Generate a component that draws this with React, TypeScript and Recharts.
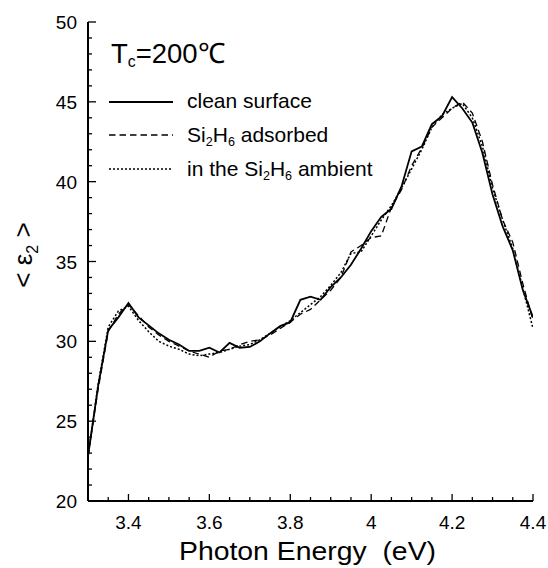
import { Legend, Line, LineChart, XAxis, YAxis } from "recharts";

const energy = [
  3.3, 3.325, 3.35, 3.375, 3.4, 3.425, 3.45, 3.475, 3.5, 3.525, 3.55, 3.575, 3.6, 3.625, 3.65,
  3.675, 3.7, 3.725, 3.75, 3.775, 3.8, 3.825, 3.85, 3.875, 3.9, 3.925, 3.95, 3.975, 4.0, 4.025,
  4.05, 4.075, 4.1, 4.125, 4.15, 4.175, 4.2, 4.225, 4.25, 4.275, 4.3, 4.325, 4.35, 4.375, 4.4,
];

const cleanSurface = [
  22.8, 27.2, 30.7, 31.5, 32.4, 31.5, 31.0, 30.5, 30.1, 29.8, 29.4, 29.4, 29.6, 29.3, 29.9,
  29.6, 29.65, 30.0, 30.5, 30.95, 31.2, 32.6, 32.8, 32.6, 33.4, 34.0, 34.8, 35.8, 36.9, 37.8,
  38.3, 39.7, 41.9, 42.2, 43.6, 44.1, 45.3, 44.6, 43.7, 41.8, 39.2, 37.2, 35.7, 33.2, 31.5,
];

const adsorbed = [
  22.8, 27.0, 30.6, 31.7, 32.3, 31.6, 30.9, 30.4, 30.0, 29.7, 29.4, 29.2, 29.0, 29.4, 29.5,
  29.8, 30.0, 30.1, 30.4, 30.8, 31.2, 31.7, 32.0, 32.6, 33.2, 34.0, 35.6, 36.0, 36.5, 36.6,
  38.4, 39.5, 41.0, 42.1, 43.4, 44.0, 44.6, 45.0, 44.3, 42.5, 39.8, 37.6, 36.2, 33.6, 31.3,
];

const ambient = [
  22.8, 27.3, 30.9, 31.9, 32.2, 31.3, 30.6, 30.0, 29.7, 29.5, 29.2, 29.1, 29.2, 29.3, 29.5,
  29.7, 29.8, 30.1, 30.5, 30.9, 31.3, 31.8, 32.3, 32.8, 33.5, 34.3, 35.5, 35.6, 36.6, 37.6,
  38.5, 39.6, 40.8, 42.0, 43.4, 44.2, 44.6, 44.9, 44.0, 42.2, 39.6, 37.6, 35.8, 33.3, 30.8,
];

const xTicks = [
  3.3, 3.35, 3.4, 3.45, 3.5, 3.55, 3.6, 3.65, 3.7, 3.75, 3.8, 3.85, 3.9, 3.95, 4.0, 4.05, 4.1,
  4.15, 4.2, 4.25, 4.3, 4.35, 4.4,
];
const xMajor = [3.4, 3.6, 3.8, 4.0, 4.2, 4.4];
const xMajorLabels = ["3.4", "3.6", "3.8", "4", "4.2", "4.4"];

const yTicks = [
  20, 21, 22, 23, 24, 25, 26, 27, 28, 29, 30, 31, 32, 33, 34, 35, 36, 37, 38, 39, 40, 41, 42, 43,
  44, 45, 46, 47, 48, 49, 50,
];
const yMajor = [20, 25, 30, 35, 40, 45, 50];
const yMajorLabels = ["20", "25", "30", "35", "40", "45", "50"];

const seriesNames = ["clean surface", "Si2H6 adsorbed", "in the Si2H6 ambient"];

const data = energy.map((e, i) => ({
  e,
  clean: cleanSurface[i],
  adsorbed: adsorbed[i],
  ambient: ambient[i],
}));

const FONT = "'Liberation Sans', Arial, Helvetica, sans-serif";

const majorIndex = (list: number[], v: number) => list.findIndex((m) => Math.abs(m - v) < 1e-6);

function XTick(props: any) {
  const { x, y, payload, side } = props;
  const idx = majorIndex(xMajor, payload.value);
  const len = idx >= 0 ? 7 : 4;
  const dir = side === "bottom" ? -1 : 1;
  return (
    <g>
      <line x1={x} y1={y} x2={x} y2={y + dir * len} stroke="#000" strokeWidth={1.3} />
      {side === "bottom" && idx >= 0 && (
        <text x={x} y={y + 28} textAnchor="middle" fontSize={19} fontFamily={FONT} fill="#000">
          {xMajorLabels[idx]}
        </text>
      )}
    </g>
  );
}

function YTick(props: any) {
  const { x, y, payload, side } = props;
  const idx = majorIndex(yMajor, payload.value);
  const len = idx >= 0 ? 8 : 4;
  const dir = side === "left" ? 1 : -1;
  return (
    <g>
      <line x1={x} y1={y} x2={x + dir * len} y2={y} stroke="#000" strokeWidth={1.3} />
      {side === "left" && idx >= 0 && (
        <text x={x - 11} y={y + 7} textAnchor="end" fontSize={19} fontFamily={FONT} fill="#000">
          {yMajorLabels[idx]}
        </text>
      )}
    </g>
  );
}

function Sub({ children }: { children: any }) {
  return <span style={{ fontSize: "0.6em", verticalAlign: "-0.35em", lineHeight: 0 }}>{children}</span>;
}

const dashFor: Record<string, string> = {
  clean: "none",
  adsorbed: "6.5 4",
  ambient: "2 2",
};

function LegendBox() {
  const rows = [
    { key: "clean", label: <>clean surface</>, y: 101.7 },
    { key: "adsorbed", label: <>Si<Sub>2</Sub>H<Sub>6</Sub> adsorbed</>, y: 135 },
    { key: "ambient", label: <>in the Si<Sub>2</Sub>H<Sub>6</Sub> ambient</>, y: 169.3 },
  ];
  return (
    <div style={{ position: "relative", width: 548, height: 200, fontFamily: FONT, color: "#000" }}>
      <svg style={{ position: "absolute", left: 0, top: 0 }} width={260} height={80}>
        <text x={111} y={63.3} fontSize={28} fontFamily={FONT} fill="#000" textLength={114} lengthAdjust="spacingAndGlyphs">
          T
          <tspan fontSize={16} dy={4}>c</tspan>
          <tspan fontSize={28} dy={-4}>=200℃</tspan>
        </text>
      </svg>
      {rows.map((r) => (
        <div key={r.key}>
          <svg style={{ position: "absolute", left: 109, top: r.y - 3 }} width={64} height={6}>
            <line
              x1={0}
              y1={3}
              x2={64}
              y2={3}
              stroke="#000"
              strokeWidth={r.key === "clean" ? 1.8 : 1.4}
              strokeDasharray={dashFor[r.key]}
            />
          </svg>
          <div style={{ position: "absolute", left: 187, top: r.y - 11.5, fontSize: 21, lineHeight: "21px", whiteSpace: "nowrap" }}>
            {r.label}
          </div>
        </div>
      ))}
    </div>
  );
}

export default function App() {
  return (
    <div style={{ position: "absolute", left: 0, top: 0, width: 548, height: 568, background: "#fff" }}>
      <LineChart width={548} height={568} data={data} margin={{ top: 22, right: 15, bottom: 0, left: 0 }}>
        <XAxis
          dataKey="e"
          type="number"
          domain={[3.3, 4.4]}
          ticks={xTicks}
          interval={0}
          height={67}
          tickSize={0}
          tickMargin={0}
          tickLine={false}
          axisLine={{ stroke: "#000", strokeWidth: 2 }}
          tick={(p: any) => <XTick {...p} side="bottom" />}
          allowDataOverflow
          label={{
            content: () => (
              <text
                x={307.5}
                y={560}
                textAnchor="middle"
                fontSize={26}
                fontFamily={FONT}
                fill="#000"
                textLength={257}
                lengthAdjust="spacingAndGlyphs"
                style={{ whiteSpace: "pre" }}
              >
                Photon Energy  (eV)
              </text>
            ),
          }}
        />
        <XAxis
          xAxisId="top"
          orientation="top"
          dataKey="e"
          type="number"
          domain={[3.3, 4.4]}
          ticks={xTicks}
          interval={0}
          height={0}
          tickSize={0}
          tickMargin={0}
          tickLine={false}
          axisLine={{ stroke: "#000", strokeWidth: 2 }}
          tick={(p: any) => <XTick {...p} side="top" />}
          allowDataOverflow
        />
        <YAxis
          type="number"
          domain={[20, 50]}
          ticks={yTicks}
          interval={0}
          width={88}
          tickSize={0}
          tickMargin={0}
          tickLine={false}
          axisLine={{ stroke: "#000", strokeWidth: 2 }}
          tick={(p: any) => <YTick {...p} side="left" />}
          allowDataOverflow
          label={{
            content: () => (
              <text transform="rotate(-90)" x={-255} y={32} textAnchor="middle" fontSize={26} fontFamily={FONT} fill="#000">
                {"< ε"}
                <tspan fontSize={16} dy={6}>2</tspan>
                <tspan dy={-6}>{" >"}</tspan>
              </text>
            ),
          }}
        />
        <YAxis
          yAxisId="right"
          orientation="right"
          type="number"
          domain={[20, 50]}
          ticks={yTicks}
          interval={0}
          width={0}
          tickSize={0}
          tickMargin={0}
          tickLine={false}
          axisLine={{ stroke: "#000", strokeWidth: 2 }}
          tick={(p: any) => <YTick {...p} side="right" />}
          allowDataOverflow
        />
        <Legend
          layout="vertical"
          align="center"
          verticalAlign="middle"
          wrapperStyle={{ left: 0, top: 0, width: 548, height: 200 }}
          content={() => <LegendBox />}
        />
        <Line
          dataKey="clean"
          name={seriesNames[0]}
          type="linear"
          stroke="#000"
          strokeWidth={1.8}
          dot={false}
          isAnimationActive={false}
        />
        <Line
          dataKey="adsorbed"
          name={seriesNames[1]}
          type="linear"
          stroke="#000"
          strokeWidth={1.3}
          strokeDasharray="6.5 4"
          dot={false}
          isAnimationActive={false}
        />
        <Line
          dataKey="ambient"
          name={seriesNames[2]}
          type="linear"
          stroke="#000"
          strokeWidth={1.5}
          strokeDasharray="2 2"
          dot={false}
          isAnimationActive={false}
        />
      </LineChart>
    </div>
  );
}
